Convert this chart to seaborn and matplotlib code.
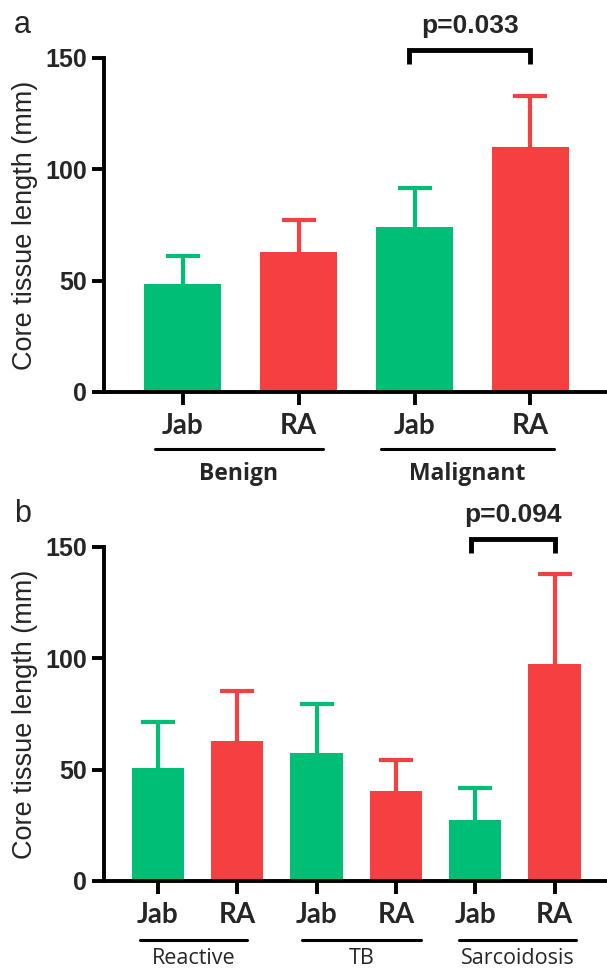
import numpy as np
import pandas as pd
import matplotlib
matplotlib.use("Agg")
import matplotlib.pyplot as plt
import matplotlib.transforms as mtransforms
import seaborn as sns

# ---- data ----
a_groups = ["Benign", "Benign", "Malignant", "Malignant"]
a_methods = ["Jab", "RA", "Jab", "RA"]
a_means = [48.6, 62.8, 74.3, 109.9]
a_upper = [61.0, 77.3, 91.8, 132.9]
a_p = "p=0.033"

b_groups = ["Reactive", "Reactive", "TB", "TB", "Sarcoidosis", "Sarcoidosis"]
b_methods = ["Jab", "RA", "Jab", "RA", "Jab", "RA"]
b_means = [50.8, 63.0, 57.7, 40.4, 27.2, 97.5]
b_upper = [71.5, 85.2, 79.7, 54.3, 41.6, 137.9]
b_p = "p=0.094"

yticks = [0, 50, 100, 150]
ylabel = "Core tissue length (mm)"
colors = {"Jab": "#00BE75", "RA": "#F63F40"}

sns.set_theme(style="white")
plt.rcParams["font.family"] = ["Liberation Sans", "DejaVu Sans"]

fig = plt.figure(figsize=(6.07, 9.71), dpi=100)
axA = fig.add_axes([0.171, 0.5963, 0.829, 0.3440])
axB = fig.add_axes([0.171, 0.0927, 0.829, 0.3440])


def panel(ax, groups, methods, means, upper, ptext, pair, letter,
          group_spans, group_weight, group_size, line_y, label_y):
    keys = [f"{g}|{m}" for g, m in zip(groups, methods)]
    df = pd.DataFrame({"key": keys, "method": methods, "mean": means})
    pal = [colors[m] for m in methods]
    sns.barplot(data=df, x="key", y="mean", hue="key", palette=pal,
                width=0.66, legend=False, ax=ax, saturation=1, linewidth=0,
                errorbar=None)
    xs = np.arange(len(means))
    for x, m, u, meth in zip(xs, means, upper, methods):
        _, caps, _ = ax.errorbar(x, m, yerr=[[0], [u - m]], fmt="none",
                                 ecolor=colors[meth], elinewidth=3,
                                 capsize=12, capthick=3, zorder=3)
        caps[0].set_visible(False)
    n = len(means)
    ax.set_xlim(-0.68, n - 1 + 0.66)
    ax.set_ylim(0, 150)
    ax.set_yticks(yticks)
    ax.set_yticklabels([str(t) for t in yticks], fontsize=18, fontweight="bold")
    ax.set_xticks(xs)
    ax.set_xticklabels(methods, fontsize=20, fontweight="bold",
                       family=["Lato", "DejaVu Sans"])
    ax.set_xlabel("")
    ax.set_ylabel(ylabel, fontsize=19.5, labelpad=5)
    for s in ["top", "right"]:
        ax.spines[s].set_visible(False)
    for s in ["left", "bottom"]:
        ax.spines[s].set_linewidth(2.8)
        ax.spines[s].set_color("black")
    ax.tick_params(axis="both", direction="out", length=9, width=2.8,
                   color="black", pad=3, bottom=True, left=True)
    ax.tick_params(axis="x", pad=6)
    # significance bracket
    i, j = pair
    ax.plot([i - 0.05, i - 0.05, j, j], [147.5, 153.5, 153.5, 147.5],
            color="black", lw=3.5, clip_on=False, solid_joinstyle="miter",
            solid_capstyle="butt")
    ax.text((i + j) / 2 - 0.02, 159, ptext, ha="center", va="bottom",
            fontsize=19, fontweight="bold")
    # group lines & labels
    tr = mtransforms.blended_transform_factory(ax.transData, ax.transAxes)
    for name, (x0, x1) in group_spans.items():
        ax.plot([x0, x1], [line_y, line_y], color="black", lw=2.2,
                transform=tr, clip_on=False)
        ax.text((x0 + x1) / 2, label_y, name, transform=tr, ha="center",
                va="center", fontsize=group_size, fontweight=group_weight,
                family=["Open Sans", "DejaVu Sans"])
    ax.text(-0.178, 1.10, letter, transform=ax.transAxes, fontsize=22,
            ha="left", va="center")


panel(axA, a_groups, a_methods, a_means, a_upper, a_p, (2, 3), "a",
      {"Benign": (-0.24, 1.21), "Malignant": (1.71, 3.2)}, "bold", 16.5,
      -0.17, -0.245)
panel(axB, b_groups, b_methods, b_means, b_upper, b_p, (4, 5), "b",
      {"Reactive": (-0.23, 1.13), "TB": (1.82, 3.32),
       "Sarcoidosis": (3.8, 5.27)}, "normal", 15.5, -0.176, -0.233)

fig.savefig("out.png", dpi=100)
